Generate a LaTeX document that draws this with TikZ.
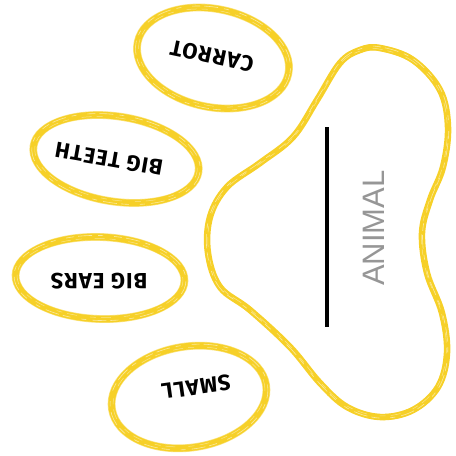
\documentclass[tikz,border=0pt]{standalone}
\usepackage{fontspec}
\newfontfamily\animalfont{Liberation Sans}
\newfontfamily\toefont[LetterSpace=5]{Fira Sans}
\definecolor{pawyellow}{RGB}{246,208,40}
\definecolor{labelgray}{RGB}{150,150,150}
\tikzset{
  pawline/.style={draw=pawyellow, line width=6.5pt},
  streak/.style={draw=white, line width=0.6pt, opacity=0.55,
    dash pattern=on 14pt off 6pt on 5pt off 11pt on 8pt off 4pt},
  streaktwo/.style={draw=white, line width=0.5pt, opacity=0.45,
    dash pattern=on 6pt off 13pt on 10pt off 5pt},
  fringe/.style={draw=pawyellow, line width=1.2pt, opacity=0.6},
  toelabel/.style={font=\toefont\bfseries\fontsize{22}{22}\selectfont, text=black, inner sep=0pt},
}
% one toe: centre, half axes, tilt
\newcommand\toe[4]{%
  \draw[fringe, rotate around={#4:#1}] #1 ellipse[x radius=#2+3.3, y radius=#3+3.3];
  \draw[fringe, rotate around={#4:#1}] #1 ellipse[x radius=#2-3.3, y radius=#3-3.3];
  \draw[pawline, rotate around={#4:#1}] #1 ellipse[x radius=#2, y radius=#3];
  \draw[streak, rotate around={#4:#1}] #1 ellipse[x radius=#2+1.5, y radius=#3+1.5];
  \draw[streaktwo, rotate around={#4:#1}] #1 ellipse[x radius=#2-1.5, y radius=#3-1.5];
}
\begin{document}
\begin{tikzpicture}[x=1pt, y=-1pt]
\useasboundingbox (0,0) rectangle (456,456);

% toes
\toe{(213,58)}{77}{49}{-12}
\toe{(116,159)}{83.5}{42.5}{-9}
\toe{(100,278)}{84.5}{41}{-2}
\toe{(189,397)}{78}{50.5}{9}

\node[toelabel, rotate=168] (carrot) at (212,56) {CARROT};
\node[toelabel, rotate=170] (teeth) at (109,159) {BIG TEETH};
\node[toelabel, rotate=180] (ears) at (99,281) {BIG EARS};
\node[toelabel, rotate=188] (small) at (196,387) {SMALL};

% main pad
\def\padpath{plot[smooth cycle, tension=0.6] coordinates {
  (380,48) (413,60) (440,90) (448,127) (443,167) (430,200) (422,233)
  (427,273) (442,313) (447,353) (438,387) (413,410) (380,417) (347,407)
  (320,383) (290,347) (250,310) (220,287) (208,253) (210,217) (227,187)
  (260,163) (293,137) (317,100) (340,63) (360,50)}}
\begin{scope}[shift={(330,235)}, scale=1.013, shift={(-330,-235)}]
  \draw[fringe] \padpath;
\end{scope}
\begin{scope}[shift={(330,235)}, scale=0.987, shift={(-330,-235)}]
  \draw[fringe] \padpath;
\end{scope}
\draw[pawline] \padpath;
\begin{scope}[shift={(330,235)}, scale=1.006, shift={(-330,-235)}]
  \draw[streak] \padpath;
\end{scope}
\begin{scope}[shift={(330,235)}, scale=0.994, shift={(-330,-235)}]
  \draw[streaktwo] \padpath;
\end{scope}

% divider and title
\coordinate (barTop) at (327,127);
\coordinate (barBot) at (327,327);
\draw[black, line width=4pt] (barTop) -- (barBot);
\node[rotate=90, text=labelgray, font=\animalfont\fontsize{31}{31}\selectfont, inner sep=0pt]
  (animal) at (374,228) {ANIMAL};
\end{tikzpicture}
\end{document}
